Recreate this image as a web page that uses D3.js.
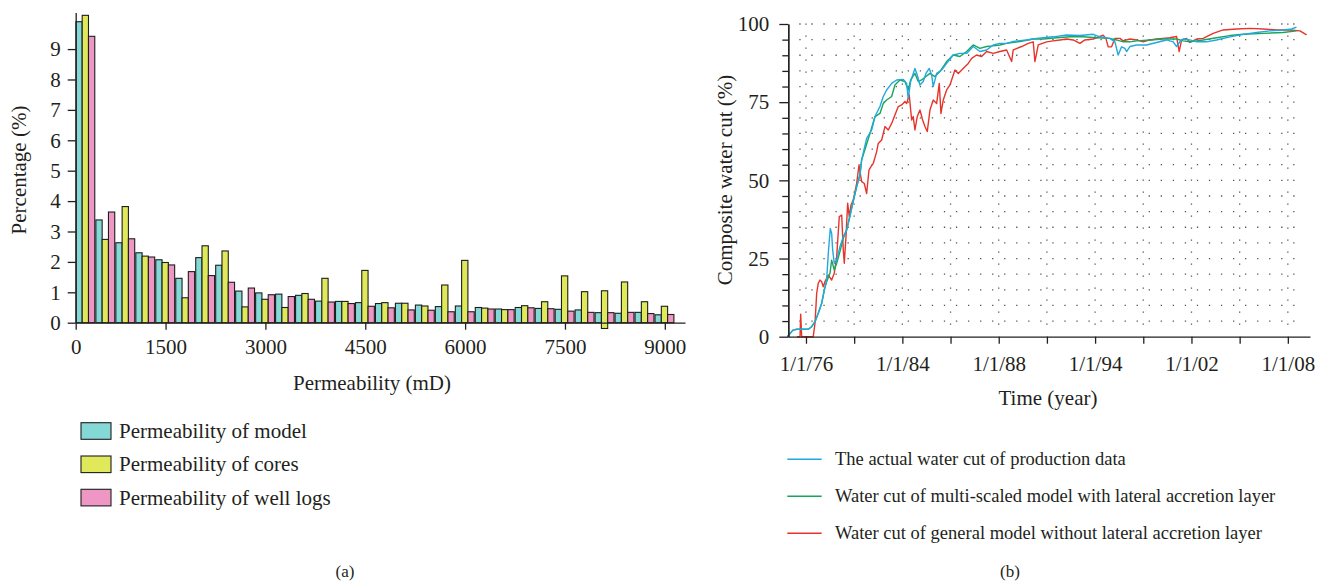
<!DOCTYPE html>
<html>
<head>
<meta charset="utf-8">
<script src="https://cdn.jsdelivr.net/npm/d3@7"></script>
<style>
  body { margin: 0; background: #fff; }
  svg { display: block; }
  text { font-family: "Liberation Serif", "Times New Roman", serif; fill: #231f20; }
</style>
</head>
<body>
<svg id="chart" width="1327" height="582"></svg>
<script>
"use strict";

// ---- (a) permeability histogram data (upper bound of each 300 mD bin)
const binTops = [300, 600, 900, 1200, 1500, 1800, 2100, 2400, 2700, 3000,
  3300, 3600, 3900, 4200, 4500, 4800, 5100, 5400, 5700, 6000,
  6300, 6600, 6900, 7200, 7500, 7800, 8100, 8400, 8700, 9000];
const modelPerm = [9.90, 3.38, 2.63, 2.30, 2.07, 1.46, 2.14, 1.89, 1.04, 0.98,
  0.94, 0.90, 0.71, 0.70, 0.66, 0.63, 0.64, 0.58, 0.53, 0.55,
  0.50, 0.45, 0.50, 0.47, 0.44, 0.42, 0.33, 0.31, 0.34, 0.26];
const coresPerm = [10.11, 2.74, 3.82, 2.19, 1.98, 0.82, 2.53, 2.36, 0.52, 0.77,
  0.50, 0.96, 1.46, 0.70, 1.72, 0.66, 0.64, 0.55, 1.24, 2.05,
  0.48, 0.43, 0.56, 0.69, 1.54, 1.02, 1.05, 1.34, 0.69, 0.54];
const logsPerm = [9.42, 3.64, 2.76, 2.16, 1.90, 1.68, 1.55, 1.33, 1.14, 0.92,
  0.86, 0.77, 0.68, 0.63, 0.54, 0.49, 0.42, 0.41, 0.36, 0.36,
  0.45, 0.43, 0.49, 0.46, 0.38, 0.34, 0.33, 0.34, 0.30, 0.27];
// one cores bar in the original hangs below the axis
const coresFloor = { 8100: -0.19 };
const permTicks = [0, 1500, 3000, 4500, 6000, 7500, 9000];
const pctTicks = [0, 1, 2, 3, 4, 5, 6, 7, 8, 9];
const permSeries = ["Permeability of model", "Permeability of cores", "Permeability of well logs"];

// ---- (b) water cut data, x in time steps (10 steps per axis tick), y in %
const timeTicks = [0, 10, 20, 30, 40, 50, 60, 70, 80, 90, 100];
const timeLabels = ["1/1/76", "", "1/1/84", "", "1/1/88", "", "1/1/94", "", "1/1/02", "", "1/1/08"];
const cutTicks = [0, 25, 50, 75, 100];
const cutSeries = ["The actual water cut of production data",
  "Water cut of multi-scaled model with lateral accretion layer",
  "Water cut of general model without lateral accretion layer"];

const actualCut = [[-3.88, 0], [-2.70, 2.1], [-1.87, 2.4], [0.48, 2.4], [1.18, 3.2], [1.87, 4.8], [2.55, 7.5],
  [3.26, 10.7], [3.80, 14.9], [4.29, 18.1], [4.63, 26.7], [5.04, 34.6], [5.33, 33], [5.54, 27.7],
  [5.87, 23.5], [6.37, 24.5], [7.05, 28.8], [7.74, 32], [8.44, 34.1], [9.13, 38.4], [9.81, 43.7],
  [10.52, 48], [11.20, 51.7], [11.55, 56.5], [12.59, 63.4], [13.63, 66.1], [14.32, 70.4], [15.35, 73.6],
  [16.04, 76.8], [16.74, 78.9], [17.78, 81], [18.82, 82.1], [20.19, 82.3], [20.89, 81], [21.22, 76.2],
  [21.72, 81.6], [22.61, 85.8], [23.09, 83.7], [23.65, 80.5], [24.34, 81.6], [24.90, 84.2], [25.58, 85.8],
  [26.08, 83.7], [26.41, 80], [27.12, 84.2], [28.15, 85.3], [29.19, 87.4], [30.56, 90.1], [31.95, 90.6],
  [33.34, 90.6], [34.71, 92.8], [36.10, 91.2], [37.49, 91.7], [38.86, 93.3], [40.25, 93.8], [41.64, 93.8],
  [43.01, 94.4], [44.40, 94.7], [45.79, 94.9], [47.86, 95.4], [49.23, 95.6], [51.31, 95.9], [54.09, 96.5],
  [56.85, 96.3], [59.61, 96.7], [61.00, 95.9], [63.07, 95.4], [64.11, 94.3], [64.79, 90.1], [65.50, 92.7],
  [66.18, 92.2], [66.54, 91.2], [67.22, 92.8], [68.61, 93.3], [70.68, 93.3], [72.76, 94.1], [74.83, 94.9],
  [76.20, 94.3], [76.91, 92.8], [77.59, 94.3], [78.28, 95.2], [79.67, 94.9], [81.06, 94.3], [83.13, 94.3],
  [85.21, 94.9], [87.97, 95.9], [90.73, 96.7], [93.51, 97.3], [96.27, 97.8], [99.02, 98.1], [100.8, 98.4],
  [101.8, 99]];

const multiScaleCut = [[-3.88, 0], [-2.70, 2.1], [-1.87, 2.4], [0.48, 2.4], [1.18, 3.2], [1.87, 4.8], [2.55, 7.5],
  [3.26, 10.7], [3.80, 14.9], [4.29, 17.6], [4.98, 20.3], [5.33, 24.5], [5.87, 21.3], [6.37, 23.5],
  [7.05, 27.2], [7.74, 31.5], [8.44, 34.1], [9.13, 38.9], [9.81, 43.2], [10.52, 48], [11.20, 51.7],
  [11.55, 56.5], [13.28, 65], [14.32, 70.4], [15.35, 71.4], [16.04, 74.6], [16.74, 75.7], [17.78, 76.8],
  [18.46, 80.5], [19.50, 82.1], [20.54, 81.6], [21.22, 78.9], [21.72, 82.1], [22.61, 84.2], [23.30, 81.6],
  [24.00, 82.1], [24.90, 83.2], [25.73, 84.2], [26.76, 83.2], [27.80, 84.8], [29.19, 88], [30.56, 90.1],
  [31.95, 89.6], [33.34, 91.2], [34.71, 93.3], [36.10, 92.2], [37.49, 92.8], [38.86, 93], [40.25, 93.3],
  [41.64, 93.8], [44.40, 94.4], [47.16, 95.2], [49.23, 95.2], [52.01, 95.6], [54.77, 95.9], [57.53, 95.9],
  [60.31, 95.6], [63.07, 95.4], [64.46, 94.9], [65.83, 94.3], [67.22, 94.3], [68.61, 94.6], [71.37, 94.9],
  [74.13, 95.2], [76.91, 95.2], [78.28, 94.6], [79.67, 94.3], [82.43, 94.9], [85.21, 95.6], [87.97, 96.3],
  [90.73, 96.7], [94.88, 97], [99.02, 97.3], [101.8, 97.8]];

const generalCut = [[-1.87, 0], [-1.24, 0], [-1.10, 7.2], [-0.89, 0], [1.51, 0], [1.87, 4.3], [2.22, 13.9],
  [2.55, 17.1], [2.90, 18.1], [3.26, 17.6], [3.59, 16], [3.94, 17.6], [4.29, 18.7], [4.63, 19.7],
  [5.33, 18.1], [5.87, 20.3], [6.37, 25.6], [6.91, 38.4], [7.41, 38.9], [7.74, 27.7], [7.95, 23.5],
  [8.30, 32], [8.65, 42.7], [8.98, 38.4], [9.34, 42.1], [9.81, 43.7], [10.52, 49], [11.00, 54.9],
  [11.55, 49.6], [12.10, 49], [12.59, 45.8], [13.07, 53.3], [13.49, 54.4], [13.96, 55.4], [14.67, 59.2],
  [15.00, 61.8], [15.71, 62.9], [16.39, 67.2], [17.07, 66.1], [17.78, 68.2], [18.46, 70.9], [19.15, 73.6],
  [19.85, 74.1], [20.54, 75.2], [20.89, 74.6], [21.43, 77.3], [21.93, 69.3], [22.26, 70.4], [22.61, 66.1],
  [23.09, 70.4], [23.65, 72.5], [24.21, 69.3], [24.69, 67.2], [25.17, 65.6], [25.73, 72.5], [26.41, 75.7],
  [27.12, 74.6], [27.66, 81], [28.01, 71.4], [28.49, 75.7], [29.19, 78.9], [29.88, 80.5], [30.91, 85.3],
  [31.60, 84.2], [32.63, 85.8], [33.67, 87.4], [34.38, 89], [35.41, 90.1], [36.45, 89.6], [37.49, 91.2],
  [38.86, 90.6], [40.25, 91.2], [41.64, 91.7], [42.68, 88], [43.01, 91.7], [44.75, 92.8], [46.12, 93.8],
  [47.16, 94.3], [47.51, 88], [48.20, 93.3], [49.94, 94.3], [51.31, 94.6], [52.70, 94.9], [54.09, 95.2],
  [55.46, 94.9], [56.85, 93.8], [57.88, 94.9], [59.61, 95.2], [61.00, 96], [61.68, 96.4], [62.24, 95.4],
  [62.72, 92.7], [63.42, 92.7], [64.11, 95.4], [65.15, 95.4], [65.83, 94.6], [67.22, 95.2], [68.61, 94.9],
  [69.98, 94.3], [71.37, 94.9], [72.76, 95.2], [74.13, 95.4], [75.52, 95.6], [76.91, 96], [77.45, 91.2],
  [77.95, 94.9], [78.98, 95.4], [79.67, 94.1], [81.06, 95.2], [82.43, 95.4], [84.51, 97], [86.58, 98.1],
  [89.36, 98.4], [92.12, 98.6], [94.88, 98.4], [97.66, 98.1], [100.4, 98.1], [102.5, 97.8], [103.9, 96.5]];

const barColors = ["#84d9d7", "#dfe95a", "#ee97c4"];
const lineColors = ["#22a8de", "#17a65c", "#e5352b"];
const INK = "#231f20";

const svg = d3.select("#chart");

// ================= (a) =================
const yP = d3.scaleLinear().domain([0, 10.2]).range([322.7, 12.6]);
const x0 = d3.scaleBand().domain(binTops).range([75.7, 75.7 + 30 * 19.97]);
const x1 = d3.scaleBand().domain([0, 1, 2]).range([0.2, x0.bandwidth() - 0.9]);
const xPermAxis = d3.scaleLinear()
  .domain([0, 1500, 9000, 9300])
  .range([75.7, x0(1500) + x0.bandwidth() / 2, x0(9000) + x0.bandwidth() / 2, 685]);

const permData = [modelPerm, coresPerm, logsPerm];
const gBars = svg.append("g");
binTops.forEach(function(bin, i) {
  permData.forEach(function(series, s) {
    const lo = (s === 1 && coresFloor[bin] !== undefined) ? coresFloor[bin] : 0;
    const top = yP(series[i]);
    gBars.append("rect")
      .attr("x", x0(bin) + x1(s))
      .attr("y", top)
      .attr("width", x1.bandwidth())
      .attr("height", yP(lo) - top)
      .attr("fill", barColors[s])
      .attr("stroke", "#1e1e1e")
      .attr("stroke-width", 1.1);
  });
});

const yAxisA = svg.append("g")
  .attr("transform", "translate(75.7,0)")
  .call(d3.axisLeft(yP).tickValues(pctTicks).tickSize(8).tickPadding(7).tickSizeOuter(0));
const xAxisA = svg.append("g")
  .attr("transform", "translate(0,322.7)")
  .call(d3.axisBottom(xPermAxis).tickValues(permTicks).tickFormat(d3.format("d")).tickSize(7).tickPadding(9).tickSizeOuter(0));

svg.append("text")
  .attr("transform", "translate(26,170) rotate(-90)")
  .attr("text-anchor", "middle")
  .attr("font-size", 21)
  .text("Percentage (%)");
svg.append("text")
  .attr("x", 372).attr("y", 390)
  .attr("text-anchor", "middle")
  .attr("font-size", 21)
  .text("Permeability (mD)");

const legA = svg.append("g");
permSeries.forEach(function(name, s) {
  const cy = 431 + s * 33.3;
  legA.append("rect")
    .attr("x", 81).attr("y", cy - 8.3)
    .attr("width", 30).attr("height", 16.6)
    .attr("fill", barColors[s]).attr("stroke", "#1e1e1e").attr("stroke-width", 1.1);
  legA.append("text")
    .attr("x", 119).attr("y", cy + 7)
    .attr("font-size", 21)
    .text(name);
});

// ================= (b) =================
const xT = d3.scaleLinear().domain([-3.67, 104.6]).range([788.3, 1310]);
const yW = d3.scaleLinear().domain([0, 100]).range([336.7, 24]);

const grid = svg.append("g").attr("stroke", "#555").attr("stroke-width", 1.3);
d3.range(5, 101, 5).forEach(function(v) {
  grid.append("line")
    .attr("x1", xT(-1.25) - 0.65).attr("x2", xT(101.5))
    .attr("y1", yW(v)).attr("y2", yW(v))
    .attr("stroke-dasharray", "1.3," + (xT(2.5) - xT(0) - 1.3));
});
timeTicks.forEach(function(t) {
  grid.append("line")
    .attr("x1", xT(t)).attr("x2", xT(t))
    .attr("y1", yW(100) - 0.6).attr("y2", yW(1))
    .attr("stroke-dasharray", "1.3,10.7");
});

const line = d3.line().x(d => xT(d[0])).y(d => yW(d[1]));
[actualCut, multiScaleCut, generalCut].slice().reverse().forEach(function(series, k) {
  const s = 2 - k;
  svg.append("path")
    .datum(series)
    .attr("fill", "none")
    .attr("stroke", lineColors[s])
    .attr("stroke-width", 1.4)
    .attr("stroke-linejoin", "round")
    .attr("d", line);
});

svg.append("g")
  .attr("transform", "translate(788.3,0)")
  .call(d3.axisLeft(yW).tickValues(d3.range(0, 101, 5).filter(v => v % 25 !== 0)).tickSize(6).tickFormat("").tickSizeOuter(0));
const yAxisB = svg.append("g")
  .attr("transform", "translate(788.3,0)")
  .call(d3.axisLeft(yW).tickValues(cutTicks).tickSize(9).tickPadding(10).tickSizeOuter(0));
const xAxisB = svg.append("g")
  .attr("transform", "translate(0,336.7)")
  .call(d3.axisBottom(xT).tickValues(timeTicks).tickFormat((d, i) => timeLabels[i]).tickSize(7).tickPadding(12).tickSizeOuter(0));

svg.append("text")
  .attr("transform", "translate(732,180) rotate(-90)")
  .attr("text-anchor", "middle")
  .attr("font-size", 21)
  .text("Composite water cut (%)");
svg.append("text")
  .attr("x", 1048).attr("y", 405)
  .attr("text-anchor", "middle")
  .attr("font-size", 21)
  .text("Time (year)");

const legB = svg.append("g");
cutSeries.forEach(function(name, s) {
  const cy = 459.3 + s * 37;
  legB.append("line")
    .attr("x1", 787.3).attr("x2", 821.7)
    .attr("y1", cy).attr("y2", cy)
    .attr("stroke", lineColors[s]).attr("stroke-width", 1.4);
  legB.append("text")
    .attr("x", 835).attr("y", cy + 6)
    .attr("font-size", 18.5)
    .text(name);
});

// captions
svg.append("text").attr("x", 345).attr("y", 577).attr("text-anchor", "middle").attr("font-size", 17).text("(a)");
svg.append("text").attr("x", 1010).attr("y", 577).attr("text-anchor", "middle").attr("font-size", 17).text("(b)");

// axis styling
svg.selectAll(".domain, .tick line").attr("stroke", INK).attr("stroke-width", 1.3);
svg.selectAll(".tick text").attr("fill", INK).attr("font-size", 21)
  .attr("font-family", "\"Liberation Serif\", \"Times New Roman\", serif");
</script>
</body>
</html>
